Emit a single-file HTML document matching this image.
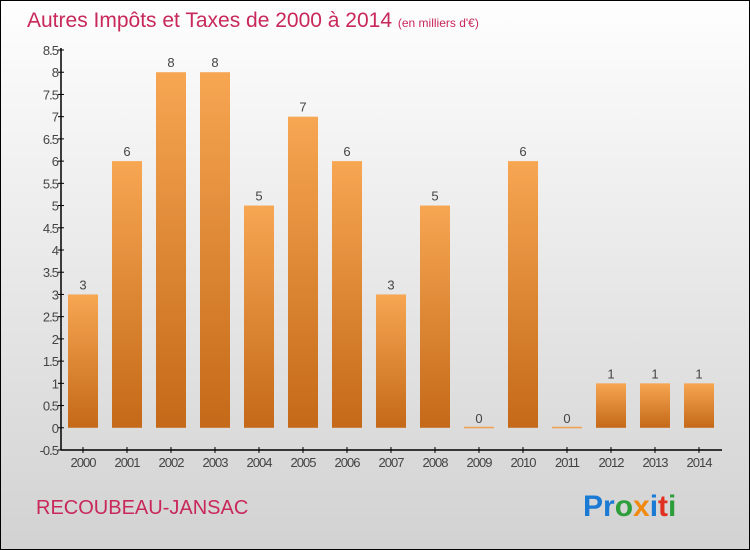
<!DOCTYPE html>
<html><head><meta charset="utf-8"><style>
body{margin:0}
#wrap{position:relative;width:748px;height:548px;border:1px solid #000;background:linear-gradient(#fefefe,#d2d2d2);font-family:"Liberation Sans",sans-serif;overflow:hidden}
</style></head><body>
<div id="wrap">
<svg width="748" height="548" viewBox="1 1 748 548" style="position:absolute;left:0;top:0" id="svg">
<defs><linearGradient id="g" x1="0" y1="0" x2="0" y2="1"><stop offset="0" stop-color="#f7a652"/><stop offset="1" stop-color="#c46918"/></linearGradient></defs>
<text x="27" y="27" font-size="21" fill="#c8285a" font-weight="300">Autres Impôts et Taxes de 2000 à 2014 <tspan font-size="12">(en milliers d'€)</tspan></text>
<text x="36" y="514" font-size="20" fill="#c8285a">RECOUBEAU-JANSAC</text>
<text x="583" y="516" font-size="30" font-weight="bold"><tspan fill="#1a7ad4">Pr</tspan><tspan fill="#2e9e3a">o</tspan><tspan fill="#f08a10">x</tspan><tspan fill="#1a7ad4">i</tspan><tspan fill="#e03020">t</tspan><tspan fill="#2e9e3a">i</tspan></text>
<g id="plot"></g>
</svg>
</div>
<script>
const categories=["2000","2001","2002","2003","2004","2005","2006","2007","2008","2009","2010","2011","2012","2013","2014"];
const values=[3,6,8,8,5,7,6,3,5,0,6,0,1,1,1];
const yTicks=[-0.5,0,0.5,1,1.5,2,2.5,3,3.5,4,4.5,5,5.5,6,6.5,7,7.5,8,8.5];
const NS="http://www.w3.org/2000/svg";
const g=document.getElementById("plot");
const x0=61,band=44,yMin=-0.5,yMax=8.5,yTop=50,yBot=450;
const y=v=>yBot-(v-yMin)/(yMax-yMin)*(yBot-yTop);
const xc=i=>x0+band/2+i*band;
function mk(t,a){const e=document.createElementNS(NS,t);for(const k in a)e.setAttribute(k,a[k]);g.appendChild(e);return e;}
yTicks.forEach(t=>{
 const l=mk("line",{x1:x0-3,x2:x0+3,y1:y(t),y2:y(t),stroke:"#000"});
 
 
 const tx=mk("text",{x:x0-3,y:y(t)+5,"font-size":13,fill:"#444","text-anchor":"end","letter-spacing":"-1"});
 tx.textContent=String(t);
 
 
});
values.forEach((v,i)=>{
 const c=xc(i),top=y(Math.max(v,0)),h=Math.max(y(0)-top,1.5);
 const r=mk("rect",{x:c-15,y:v>0?top:y(0)-1,width:30,height:h,fill:v>0?"url(#g)":"#f0a050"});
 
 
 const lb=mk("text",{x:c,y:(v>0?top:y(0))-5,"font-size":13,fill:"#444","text-anchor":"middle"});
 lb.textContent=String(v);
 
 
 const tk=mk("line",{x1:c,x2:c,y1:yBot-3,y2:yBot+3,stroke:"#000"});
 
 
 const xl=mk("text",{x:c,y:yBot+17,"font-size":13,fill:"#444","text-anchor":"middle","letter-spacing":"-1"});
 xl.textContent=categories[i];
 
 
});
const ya=mk("line",{x1:x0,x2:x0,y1:yTop-2,y2:yBot,stroke:"#000","stroke-width":1.5});


const xa=mk("line",{x1:x0,x2:x0+band*categories.length+1,y1:yBot,y2:yBot,stroke:"#000","stroke-width":1.5});


</script>
</body></html>
